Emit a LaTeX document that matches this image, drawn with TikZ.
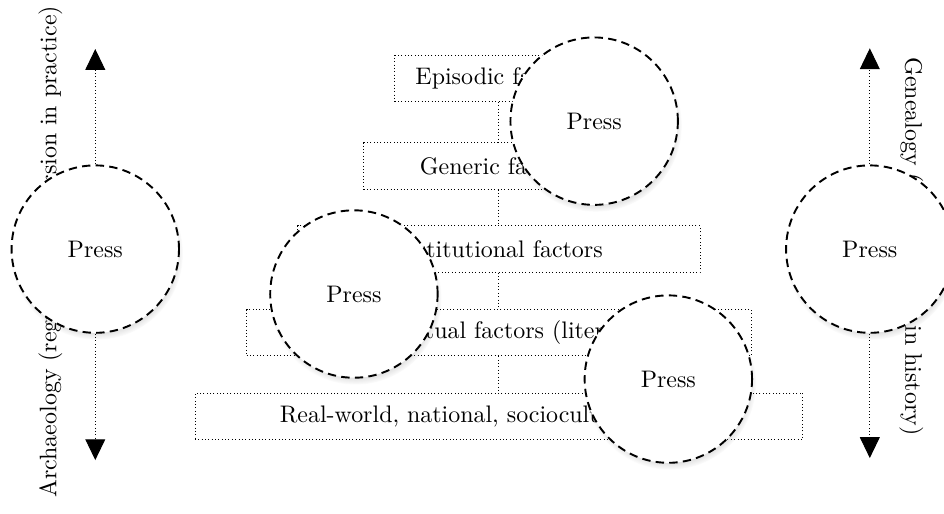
\documentclass[tikz,border=0pt]{standalone}
\usetikzlibrary{arrows.meta,shadows}

\begin{document}
\begin{tikzpicture}[
  factor/.style={draw,densely dotted,line width=0.4pt,minimum height=0.68cm,inner sep=2pt},
  link/.style={densely dotted,line width=0.4pt},
  axis/.style={densely dotted,line width=0.4pt,-{Triangle[width=8.3pt,length=8.7pt]}},
  press/.style={circle,draw,thick,dash pattern=on 3.5pt off 2.2pt,fill=white,
    minimum size=2.46cm,inner sep=0pt,
    circular drop shadow={shadow scale=1.03,shadow xshift=0.6pt,shadow yshift=-1.8pt,opacity=0.4}}
]
  \useasboundingbox (0,0) rectangle (13.87,7.55);
  % the five levels
  \node[factor,minimum width=3.06cm] (episodic) at (7.33,6.40) {Episodic factors};
  \node[factor,minimum width=3.97cm] (generic) at (7.33,5.11) {Generic factors};
  \node[factor,minimum width=5.91cm] (instit) at (7.33,3.89) {Institutional factors};
  \node[factor,minimum width=7.41cm] (context) at (7.33,2.66) {Contextual factors (literary)};
  \node[factor,minimum width=8.93cm] (realworld) at (7.33,1.43) {Real-world, national, sociocultural factors};
  \draw[link] (episodic) -- (generic);
  \draw[link] (generic) -- (instit);
  \draw[link] (instit) -- (context);
  \draw[link] (context) -- (realworld);
  % side labels
  \node[rotate=90] (archlabel) at (0.74,3.85) {Archaeology (regularity, dispersion in practice)};
  \node[rotate=-90] (genlabel) at (13.39,3.93) {Genealogy (discontinuity in history)};
  % press circles
  \node[press] (pressL) at (1.40,3.89) {Press};
  \node[press] (pressR) at (12.78,3.89) {Press};
  \node[press] (pressA) at (8.73,5.77) {Press};
  \node[press] (pressB) at (5.20,3.23) {Press};
  \node[press] (pressC) at (9.82,1.98) {Press};
  % up and down arrows
  \coordinate (lTop) at (1.40,6.83); \coordinate (lBot) at (1.40,0.79);
  \coordinate (rTop) at (12.78,6.84); \coordinate (rBot) at (12.78,0.82);
  \draw[axis] (pressL) -- (lTop); \draw[axis] (pressL) -- (lBot);
  \draw[axis] (pressR) -- (rTop); \draw[axis] (pressR) -- (rBot);
\end{tikzpicture}
\end{document}
